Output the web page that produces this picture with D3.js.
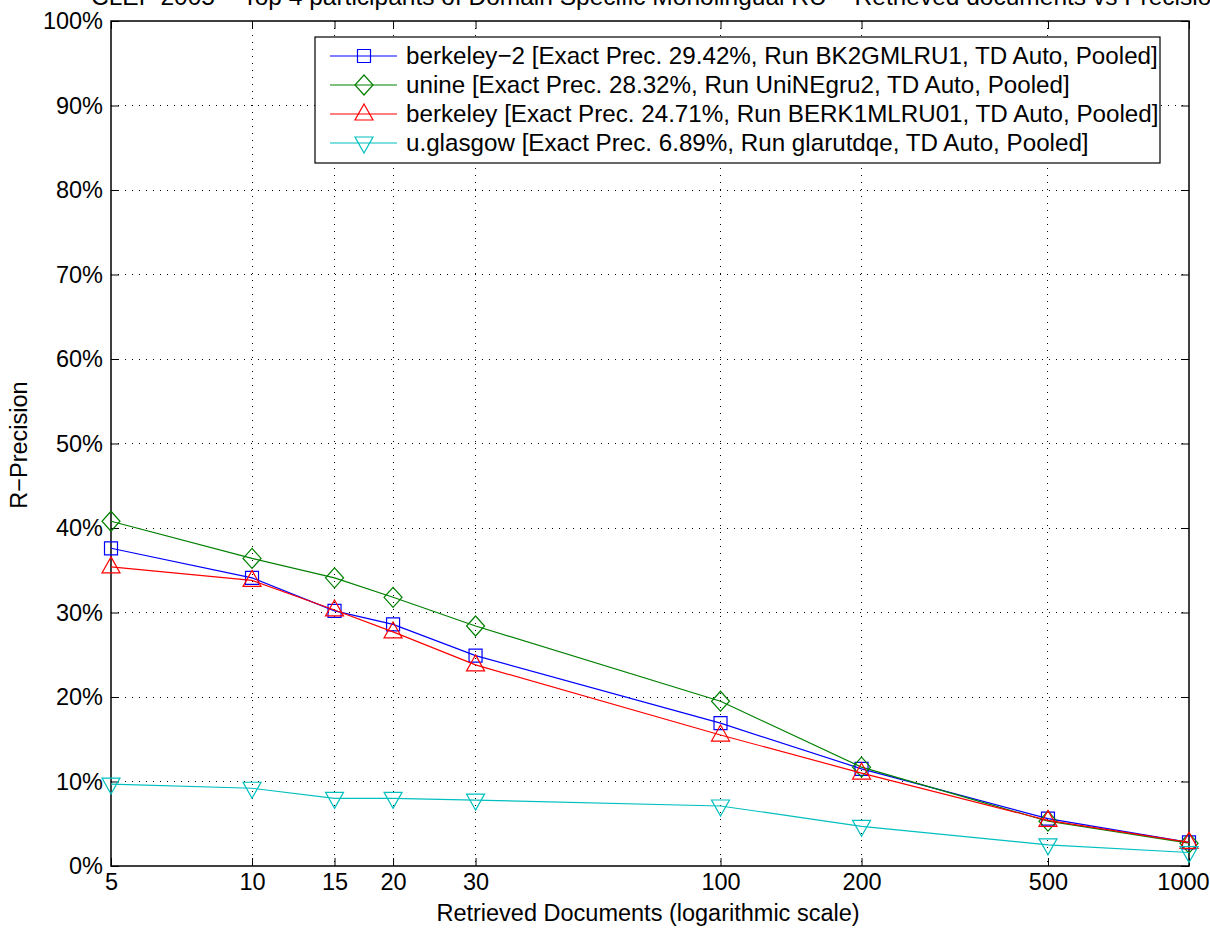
<!DOCTYPE html>
<html><head><meta charset="utf-8">
<script src="https://cdn.jsdelivr.net/npm/d3@7"></script>
<style>body{margin:0;background:#fff}svg{display:block;font-family:"Liberation Sans",Arial,sans-serif}</style>
</head><body><svg id="c" width="1210" height="928"></svg>
<script>
const docs = [5, 10, 15, 20, 30, 100, 200, 500, 1000];
const xTickLabels = ["5","10","15","20","30","100","200","500","1000"];
const yTicks = [0,10,20,30,40,50,60,70,80,90,100];
const seriesNames = [
  "berkeley\u22122 [Exact Prec. 29.42%, Run BK2GMLRU1, TD Auto, Pooled]",
  "unine [Exact Prec. 28.32%, Run UniNEgru2, TD Auto, Pooled]",
  "berkeley [Exact Prec. 24.71%, Run BERK1MLRU01, TD Auto, Pooled]",
  "u.glasgow [Exact Prec. 6.89%, Run glarutdqe, TD Auto, Pooled]"
];
const berkeley2 = [37.6, 34.1, 30.2, 28.6, 24.9, 16.9, 11.5, 5.6, 2.8];
const unine     = [40.8, 36.4, 34.1, 31.8, 28.4, 19.5, 11.7, 5.3, 2.7];
const berkeley  = [35.4, 33.8, 30.3, 27.7, 23.8, 15.5, 11.0, 5.4, 2.8];
const glasgow   = [9.7, 9.2, 8.0, 8.0, 7.8, 7.1, 4.7, 2.5, 1.6];
const colors = ["#0000ff", "#008000", "#ff0000", "#00bfbf"];
const markers = ["square", "diamond", "up", "down"];
const title = "CLEF 2005 \u2212 Top 4 participants of Domain Specific Monolingual RU \u2212 Retrieved documents vs Precision";

const FS = 23.5, FS_LEG = 24.2, FS_TITLE = 24.5;

const svg = d3.select("#c");
const L = 111, R = 1189, T = 21, B = 866;
const x = d3.scaleLog().domain([5, 1000]).range([L, R]);
const y = d3.scaleLinear().domain([0, 100]).range([B, T]);

// title (top partly outside the page, as in the reference)
svg.append("text").attr("x", 658).attr("y", 5).attr("text-anchor", "middle")
  .attr("font-size", FS_TITLE).text(title);

// grid
const g = svg.append("g");
docs.forEach(d => {
  if (d === 5 || d === 1000) return;
  g.append("line").attr("x1", x(d)).attr("x2", x(d)).attr("y1", T).attr("y2", B)
    .attr("stroke", "#000").attr("stroke-width", 1).attr("stroke-dasharray", "1,6")
    .attr("shape-rendering", "crispEdges");
});
yTicks.forEach(v => {
  if (v === 0 || v === 100) return;
  g.append("line").attr("x1", L).attr("x2", R).attr("y1", y(v)).attr("y2", y(v))
    .attr("stroke", "#000").attr("stroke-width", 1).attr("stroke-dasharray", "1,6")
    .attr("shape-rendering", "crispEdges");
});

// axes with inward ticks
const xa = svg.append("g").attr("transform", `translate(0,${B})`)
  .call(d3.axisBottom(x).tickValues(docs).tickFormat((d, i) => xTickLabels[i]).tickSizeInner(-8).tickSizeOuter(0).tickPadding(14));
svg.append("g").attr("transform", `translate(0,${T})`).call(d3.axisTop(x).tickValues(docs).tickFormat("").tickSizeInner(-8).tickSizeOuter(0));
const ya = svg.append("g").attr("transform", `translate(${L},0)`)
  .call(d3.axisLeft(y).tickValues(yTicks).tickFormat(d => d + "%").tickSizeInner(-8).tickSizeOuter(0).tickPadding(8));
svg.append("g").attr("transform", `translate(${R},0)`).call(d3.axisRight(y).tickValues(yTicks).tickFormat("").tickSizeInner(-8).tickSizeOuter(0));
svg.selectAll(".domain").remove();
svg.selectAll(".tick line").attr("stroke", "#000");
svg.selectAll(".tick text").attr("font-size", FS).attr("fill", "#000").attr("font-family", "Liberation Sans, Arial, sans-serif");
xa.selectAll(".tick text").attr("y", 7).attr("dy", "0.71em");
xa.selectAll(".tick text").filter(d => d === 1000).attr("dx", -6);
svg.append("rect").attr("x", L).attr("y", T).attr("width", R - L).attr("height", B - T)
  .attr("fill", "none").attr("stroke", "#000").attr("stroke-width", 1.5);

// labels
svg.append("text").attr("x", 648).attr("y", 921).attr("text-anchor", "middle").attr("font-size", FS)
  .text("Retrieved Documents (logarithmic scale)");
svg.append("text").attr("transform", "translate(27,445) rotate(-90)").attr("text-anchor", "middle").attr("font-size", FS)
  .text("R\u2212Precision");

function markerPath(type, cx, cy) {
  const s = 6.5;
  if (type === "square") return `M${cx-s},${cy-s}H${cx+s}V${cy+s}H${cx-s}Z`;
  if (type === "diamond") return `M${cx},${cy-10}L${cx+9},${cy}L${cx},${cy+10}L${cx-9},${cy}Z`;
  if (type === "up") return `M${cx},${cy-10}L${cx+9},${cy+6}L${cx-9},${cy+6}Z`;
  return `M${cx},${cy+10}L${cx+9},${cy-6}L${cx-9},${cy-6}Z`;
}

const allSeries = [berkeley2, unine, berkeley, glasgow];
const line = d3.line().x((d, i) => x(docs[i])).y(d => y(d));
allSeries.forEach((vals, si) => {
  svg.append("path").datum(vals).attr("d", line).attr("fill", "none")
    .attr("stroke", colors[si]).attr("stroke-width", 1.2);
  vals.forEach((v, i) => {
    svg.append("path").attr("d", markerPath(markers[si], x(docs[i]), y(v)))
      .attr("fill", "none").attr("stroke", colors[si]).attr("stroke-width", 1.2);
  });
});

// legend
const lg = svg.append("g");
lg.append("rect").attr("x", 315).attr("y", 37).attr("width", 845).attr("height", 126)
  .attr("fill", "#fff").attr("stroke", "#000").attr("stroke-width", 1.2);
seriesNames.forEach((n, i) => {
  const yy = 56 + i * 29;
  lg.append("line").attr("x1", 330).attr("x2", 397).attr("y1", yy).attr("y2", yy).attr("stroke", colors[i]).attr("stroke-width", 1.2);
  lg.append("path").attr("d", markerPath(markers[i], 364, yy)).attr("fill", "none").attr("stroke", colors[i]).attr("stroke-width", 1.2);
  lg.append("text").attr("x", 406).attr("y", yy + 8).attr("font-size", FS_LEG).text(n);
});
</script></body></html>
